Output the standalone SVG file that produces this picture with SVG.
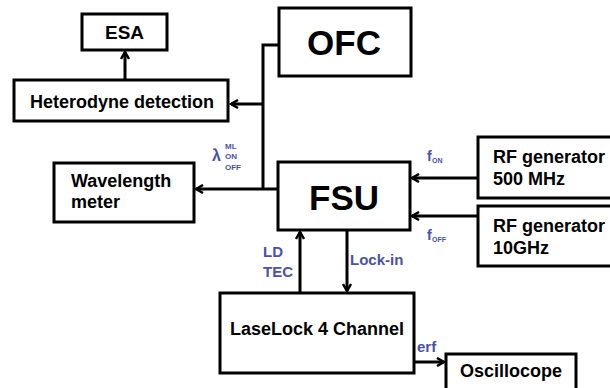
<svg xmlns="http://www.w3.org/2000/svg" width="610" height="388" viewBox="0 0 610 388">
  <style>
    .box { fill: #ffffff; stroke: #000000; stroke-width: 3; }
    .t { font-family: "Liberation Sans", Arial, sans-serif; font-weight: bold; fill: #000000; font-size: 18px; }
    .big { font-size: 35px; }
    .mid { font-size: 19px; }
    .lbl { font-family: "Liberation Sans", Arial, sans-serif; font-weight: bold; fill: #4a52a8; }
    .wire { fill: none; stroke: #000000; stroke-width: 3; }
  </style>
  <defs>
    <marker id="arrow" markerWidth="10" markerHeight="10" refX="8" refY="5" orient="auto" markerUnits="userSpaceOnUse">
      <path d="M1,1 L8,5 L1,9" fill="none" stroke="#000000" stroke-width="2.5"/>
    </marker>
  </defs>
  <rect width="610" height="388" fill="#ffffff"/>

  <g id="connectors">
    <!-- OFC tap bus -->
    <path class="wire" d="M279,45 L263,45 L263,190"/>
    <path class="wire" d="M263,104 L231,104" marker-end="url(#arrow)"/>
    <path class="wire" d="M278,189 L196,189" marker-end="url(#arrow)"/>
    <!-- Heterodyne to ESA -->
    <path class="wire" d="M125,80 L125,52" marker-end="url(#arrow)"/>
    <!-- RF generators to FSU -->
    <path class="wire" d="M478,178 L412,178" marker-end="url(#arrow)"/>
    <path class="wire" d="M478,216 L412,216" marker-end="url(#arrow)"/>
    <!-- FSU / LaseLock -->
    <path class="wire" d="M300,292 L300,232" marker-end="url(#arrow)"/>
    <path class="wire" d="M347,230 L347,291" marker-end="url(#arrow)"/>
    <!-- LaseLock to oscilloscope -->
    <path class="wire" d="M414,362 L444,362" marker-end="url(#arrow)"/>

    <text class="lbl" x="212" y="161" font-size="16">λ</text>
    <text class="lbl" x="225" y="149" font-size="8">ML</text>
    <text class="lbl" x="225" y="159" font-size="8">ON</text>
    <text class="lbl" x="225" y="170" font-size="8">OFF</text>
    <text class="lbl" x="427" y="161" font-size="14">f</text>
    <text class="lbl" x="432" y="163" font-size="7">ON</text>
    <text class="lbl" x="427" y="240" font-size="14">f</text>
    <text class="lbl" x="432" y="242" font-size="7">OFF</text>
    <text class="lbl" x="263" y="257" font-size="15">LD</text>
    <text class="lbl" x="263" y="277" font-size="15">TEC</text>
    <text class="lbl" x="350" y="265" font-size="15">Lock-in</text>
    <text class="lbl" x="417" y="352" font-size="15">erf</text>
  </g>

  <g id="esa">
    <rect class="box" x="82" y="14" width="85" height="36"/>
    <text class="t mid" x="124.5" y="39" text-anchor="middle">ESA</text>
  </g>
  <g id="heterodyne">
    <rect class="box" x="14" y="80" width="214" height="41"/>
    <text class="t" x="122" y="108" text-anchor="middle">Heterodyne detection</text>
  </g>
  <g id="ofc">
    <rect class="box" x="279" y="8" width="132" height="68"/>
    <text class="t big" x="344" y="55" text-anchor="middle">OFC</text>
  </g>
  <g id="wavelength-meter">
    <rect class="box" x="54" y="163" width="140" height="59"/>
    <text class="t" x="71" y="187">Wavelength</text>
    <text class="t" x="71" y="208">meter</text>
  </g>
  <g id="fsu">
    <rect class="box" x="278" y="162" width="132" height="68"/>
    <text class="t big" x="344" y="210" text-anchor="middle">FSU</text>
  </g>
  <g id="rf-500">
    <rect class="box" x="478" y="137" width="140" height="61"/>
    <text class="t" x="493" y="163">RF generator</text>
    <text class="t" x="493" y="185">500 MHz</text>
  </g>
  <g id="rf-10g">
    <rect class="box" x="478" y="206" width="140" height="60"/>
    <text class="t" x="493" y="232">RF generator</text>
    <text class="t" x="493" y="254">10GHz</text>
  </g>
  <g id="laselock">
    <rect class="box" x="220" y="293" width="194" height="80"/>
    <text class="t" x="317" y="335" text-anchor="middle">LaseLock 4 Channel</text>
  </g>
  <g id="oscilloscope">
    <rect class="box" x="446" y="354" width="130" height="40"/>
    <text class="t" x="511" y="377" text-anchor="middle">Oscillocope</text>
  </g>
</svg>
